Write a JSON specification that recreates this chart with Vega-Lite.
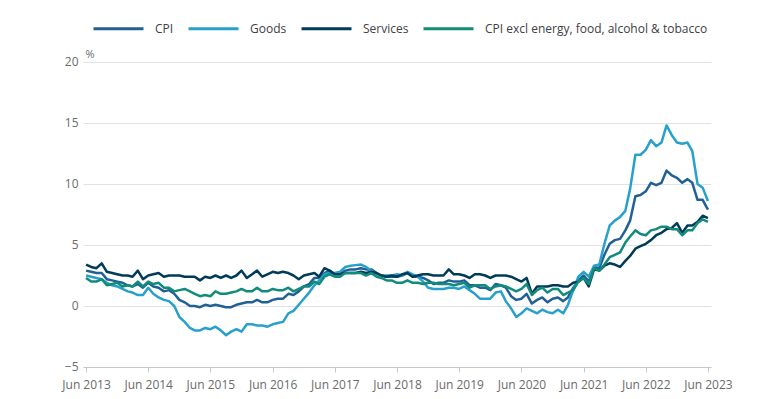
{
  "$schema": "https://vega.github.io/schema/vega-lite/v6.json",
  "width": 628,
  "height": 305,
  "autosize": "none",
  "padding": {"left": 83, "top": 62, "right": 51, "bottom": 32},
  "background": "white",
  "config": {"font": "Open Sans", "view": {"stroke": null}},
  "data": {"values": [
    {"d":"2013-06-01","cpi":2.9,"goods":2.5,"services":3.4,"core":2.3},
    {"d":"2013-07-01","cpi":2.8,"goods":2.4,"services":3.2,"core":2.0},
    {"d":"2013-08-01","cpi":2.7,"goods":2.3,"services":3.1,"core":2.0},
    {"d":"2013-09-01","cpi":2.7,"goods":2.2,"services":3.5,"core":2.2},
    {"d":"2013-10-01","cpi":2.2,"goods":1.9,"services":2.8,"core":1.7},
    {"d":"2013-11-01","cpi":2.1,"goods":1.7,"services":2.7,"core":1.8},
    {"d":"2013-12-01","cpi":2.0,"goods":1.6,"services":2.6,"core":1.9},
    {"d":"2014-01-01","cpi":1.9,"goods":1.4,"services":2.5,"core":1.6},
    {"d":"2014-02-01","cpi":1.7,"goods":1.2,"services":2.5,"core":1.7},
    {"d":"2014-03-01","cpi":1.6,"goods":1.1,"services":2.4,"core":1.6},
    {"d":"2014-04-01","cpi":1.8,"goods":0.9,"services":2.9,"core":2.0},
    {"d":"2014-05-01","cpi":1.5,"goods":0.9,"services":2.2,"core":1.6},
    {"d":"2014-06-01","cpi":1.9,"goods":1.5,"services":2.5,"core":2.0},
    {"d":"2014-07-01","cpi":1.6,"goods":1.0,"services":2.6,"core":1.8},
    {"d":"2014-08-01","cpi":1.5,"goods":0.7,"services":2.7,"core":1.9},
    {"d":"2014-09-01","cpi":1.2,"goods":0.5,"services":2.4,"core":1.5},
    {"d":"2014-10-01","cpi":1.3,"goods":0.4,"services":2.5,"core":1.5},
    {"d":"2014-11-01","cpi":1.0,"goods":0.0,"services":2.5,"core":1.2},
    {"d":"2014-12-01","cpi":0.5,"goods":-0.9,"services":2.5,"core":1.3},
    {"d":"2015-01-01","cpi":0.3,"goods":-1.3,"services":2.4,"core":1.4},
    {"d":"2015-02-01","cpi":0.0,"goods":-1.8,"services":2.4,"core":1.2},
    {"d":"2015-03-01","cpi":0.0,"goods":-2.0,"services":2.4,"core":1.0},
    {"d":"2015-04-01","cpi":-0.1,"goods":-2.0,"services":2.1,"core":0.8},
    {"d":"2015-05-01","cpi":0.1,"goods":-1.8,"services":2.4,"core":0.9},
    {"d":"2015-06-01","cpi":0.0,"goods":-1.9,"services":2.3,"core":0.8},
    {"d":"2015-07-01","cpi":0.1,"goods":-1.7,"services":2.5,"core":1.2},
    {"d":"2015-08-01","cpi":0.0,"goods":-2.0,"services":2.3,"core":1.0},
    {"d":"2015-09-01","cpi":-0.1,"goods":-2.4,"services":2.5,"core":1.0},
    {"d":"2015-10-01","cpi":-0.1,"goods":-2.1,"services":2.3,"core":1.1},
    {"d":"2015-11-01","cpi":0.1,"goods":-1.9,"services":2.5,"core":1.2},
    {"d":"2015-12-01","cpi":0.2,"goods":-2.1,"services":2.9,"core":1.4},
    {"d":"2016-01-01","cpi":0.3,"goods":-1.5,"services":2.3,"core":1.2},
    {"d":"2016-02-01","cpi":0.3,"goods":-1.5,"services":2.6,"core":1.2},
    {"d":"2016-03-01","cpi":0.5,"goods":-1.6,"services":2.9,"core":1.5},
    {"d":"2016-04-01","cpi":0.3,"goods":-1.6,"services":2.4,"core":1.2},
    {"d":"2016-05-01","cpi":0.3,"goods":-1.7,"services":2.6,"core":1.2},
    {"d":"2016-06-01","cpi":0.5,"goods":-1.5,"services":2.8,"core":1.4},
    {"d":"2016-07-01","cpi":0.6,"goods":-1.4,"services":2.7,"core":1.3},
    {"d":"2016-08-01","cpi":0.6,"goods":-1.3,"services":2.8,"core":1.3},
    {"d":"2016-09-01","cpi":1.0,"goods":-0.6,"services":2.7,"core":1.5},
    {"d":"2016-10-01","cpi":0.9,"goods":-0.4,"services":2.5,"core":1.2},
    {"d":"2016-11-01","cpi":1.2,"goods":0.1,"services":2.2,"core":1.4},
    {"d":"2016-12-01","cpi":1.6,"goods":0.6,"services":2.5,"core":1.6},
    {"d":"2017-01-01","cpi":1.8,"goods":1.1,"services":2.6,"core":1.6},
    {"d":"2017-02-01","cpi":2.3,"goods":1.7,"services":2.7,"core":2.0},
    {"d":"2017-03-01","cpi":2.3,"goods":2.1,"services":2.4,"core":1.8},
    {"d":"2017-04-01","cpi":2.7,"goods":2.6,"services":3.1,"core":2.4},
    {"d":"2017-05-01","cpi":2.9,"goods":2.7,"services":2.9,"core":2.6},
    {"d":"2017-06-01","cpi":2.6,"goods":2.7,"services":2.6,"core":2.4},
    {"d":"2017-07-01","cpi":2.6,"goods":2.8,"services":2.6,"core":2.4},
    {"d":"2017-08-01","cpi":2.9,"goods":3.2,"services":2.7,"core":2.7},
    {"d":"2017-09-01","cpi":3.0,"goods":3.3,"services":2.7,"core":2.7},
    {"d":"2017-10-01","cpi":3.0,"goods":3.35,"services":2.7,"core":2.7},
    {"d":"2017-11-01","cpi":3.1,"goods":3.4,"services":2.8,"core":2.7},
    {"d":"2017-12-01","cpi":3.0,"goods":3.2,"services":2.7,"core":2.5},
    {"d":"2018-01-01","cpi":3.0,"goods":2.9,"services":2.8,"core":2.7},
    {"d":"2018-02-01","cpi":2.7,"goods":2.6,"services":2.7,"core":2.4},
    {"d":"2018-03-01","cpi":2.5,"goods":2.5,"services":2.5,"core":2.3},
    {"d":"2018-04-01","cpi":2.4,"goods":2.5,"services":2.4,"core":2.1},
    {"d":"2018-05-01","cpi":2.4,"goods":2.5,"services":2.5,"core":2.1},
    {"d":"2018-06-01","cpi":2.4,"goods":2.6,"services":2.4,"core":1.9},
    {"d":"2018-07-01","cpi":2.5,"goods":2.5,"services":2.6,"core":1.9},
    {"d":"2018-08-01","cpi":2.7,"goods":2.8,"services":2.7,"core":2.1},
    {"d":"2018-09-01","cpi":2.4,"goods":2.6,"services":2.4,"core":1.9},
    {"d":"2018-10-01","cpi":2.4,"goods":2.4,"services":2.5,"core":1.9},
    {"d":"2018-11-01","cpi":2.3,"goods":2.0,"services":2.6,"core":1.8},
    {"d":"2018-12-01","cpi":2.1,"goods":1.5,"services":2.6,"core":1.9},
    {"d":"2019-01-01","cpi":1.8,"goods":1.4,"services":2.5,"core":1.9},
    {"d":"2019-02-01","cpi":1.9,"goods":1.4,"services":2.5,"core":1.8},
    {"d":"2019-03-01","cpi":1.9,"goods":1.4,"services":2.5,"core":1.8},
    {"d":"2019-04-01","cpi":2.1,"goods":1.5,"services":3.0,"core":1.8},
    {"d":"2019-05-01","cpi":2.0,"goods":1.5,"services":2.6,"core":1.7},
    {"d":"2019-06-01","cpi":2.0,"goods":1.4,"services":2.6,"core":1.8},
    {"d":"2019-07-01","cpi":2.1,"goods":1.6,"services":2.5,"core":1.9},
    {"d":"2019-08-01","cpi":1.7,"goods":1.3,"services":2.3,"core":1.5},
    {"d":"2019-09-01","cpi":1.7,"goods":1.0,"services":2.6,"core":1.7},
    {"d":"2019-10-01","cpi":1.5,"goods":0.6,"services":2.6,"core":1.7},
    {"d":"2019-11-01","cpi":1.5,"goods":0.6,"services":2.5,"core":1.7},
    {"d":"2019-12-01","cpi":1.3,"goods":0.6,"services":2.3,"core":1.4},
    {"d":"2020-01-01","cpi":1.8,"goods":1.1,"services":2.5,"core":1.6},
    {"d":"2020-02-01","cpi":1.7,"goods":1.2,"services":2.5,"core":1.7},
    {"d":"2020-03-01","cpi":1.5,"goods":0.4,"services":2.5,"core":1.6},
    {"d":"2020-04-01","cpi":0.8,"goods":-0.2,"services":2.4,"core":1.4},
    {"d":"2020-05-01","cpi":0.5,"goods":-0.9,"services":2.2,"core":1.2},
    {"d":"2020-06-01","cpi":0.6,"goods":-0.6,"services":2.0,"core":1.4},
    {"d":"2020-07-01","cpi":1.0,"goods":-0.2,"services":2.3,"core":1.8},
    {"d":"2020-08-01","cpi":0.2,"goods":-0.4,"services":1.0,"core":0.9},
    {"d":"2020-09-01","cpi":0.5,"goods":-0.6,"services":1.6,"core":1.3},
    {"d":"2020-10-01","cpi":0.7,"goods":-0.3,"services":1.6,"core":1.5},
    {"d":"2020-11-01","cpi":0.3,"goods":-0.5,"services":1.6,"core":1.1},
    {"d":"2020-12-01","cpi":0.6,"goods":-0.6,"services":1.7,"core":1.4},
    {"d":"2021-01-01","cpi":0.7,"goods":-0.3,"services":1.7,"core":1.4},
    {"d":"2021-02-01","cpi":0.4,"goods":-0.6,"services":1.6,"core":0.9},
    {"d":"2021-03-01","cpi":0.7,"goods":0.1,"services":1.6,"core":1.1},
    {"d":"2021-04-01","cpi":1.5,"goods":1.3,"services":1.9,"core":1.3},
    {"d":"2021-05-01","cpi":2.1,"goods":2.4,"services":2.0,"core":2.0},
    {"d":"2021-06-01","cpi":2.5,"goods":2.8,"services":2.3,"core":2.3},
    {"d":"2021-07-01","cpi":2.0,"goods":2.4,"services":1.6,"core":1.8},
    {"d":"2021-08-01","cpi":3.2,"goods":3.3,"services":3.0,"core":3.1},
    {"d":"2021-09-01","cpi":3.1,"goods":3.4,"services":2.9,"core":2.9},
    {"d":"2021-10-01","cpi":4.2,"goods":5.1,"services":3.3,"core":3.4},
    {"d":"2021-11-01","cpi":5.1,"goods":6.6,"services":3.5,"core":4.0},
    {"d":"2021-12-01","cpi":5.4,"goods":7.0,"services":3.4,"core":4.2},
    {"d":"2022-01-01","cpi":5.5,"goods":7.3,"services":3.2,"core":4.4},
    {"d":"2022-02-01","cpi":6.2,"goods":7.8,"services":3.7,"core":5.2},
    {"d":"2022-03-01","cpi":7.0,"goods":9.6,"services":4.1,"core":5.7},
    {"d":"2022-04-01","cpi":9.0,"goods":12.4,"services":4.7,"core":6.2},
    {"d":"2022-05-01","cpi":9.1,"goods":12.4,"services":4.9,"core":5.9},
    {"d":"2022-06-01","cpi":9.4,"goods":12.8,"services":5.1,"core":5.8},
    {"d":"2022-07-01","cpi":10.1,"goods":13.6,"services":5.4,"core":6.2},
    {"d":"2022-08-01","cpi":9.9,"goods":13.1,"services":5.8,"core":6.3},
    {"d":"2022-09-01","cpi":10.1,"goods":13.4,"services":6.0,"core":6.5},
    {"d":"2022-10-01","cpi":11.1,"goods":14.8,"services":6.3,"core":6.5},
    {"d":"2022-11-01","cpi":10.7,"goods":14.0,"services":6.4,"core":6.3},
    {"d":"2022-12-01","cpi":10.5,"goods":13.4,"services":6.8,"core":6.3},
    {"d":"2023-01-01","cpi":10.1,"goods":13.3,"services":6.0,"core":5.8},
    {"d":"2023-02-01","cpi":10.4,"goods":13.4,"services":6.6,"core":6.2},
    {"d":"2023-03-01","cpi":10.1,"goods":12.7,"services":6.6,"core":6.2},
    {"d":"2023-04-01","cpi":8.7,"goods":10.0,"services":6.9,"core":6.8},
    {"d":"2023-05-01","cpi":8.7,"goods":9.7,"services":7.4,"core":7.1},
    {"d":"2023-06-01","cpi":7.9,"goods":8.6,"services":7.2,"core":6.9}
  ]},
  "transform": [{"fold": ["cpi", "goods", "services", "core"], "as": ["series", "value"]}],
  "mark": {"type": "line", "strokeWidth": 2.5, "strokeJoin": "round"},
  "encoding": {
    "x": {
      "field": "d",
      "type": "temporal",
      "scale": {"type": "utc", "domain": [{"year": 2013, "month": 5, "date": 14, "utc": true}, {"year": 2023, "month": 6, "date": 19, "utc": true}]},
      "axis": {
        "title": null,
        "values": [
          {"year": 2013, "month": 6, "date": 1, "utc": true},
          {"year": 2014, "month": 6, "date": 1, "utc": true},
          {"year": 2015, "month": 6, "date": 1, "utc": true},
          {"year": 2016, "month": 6, "date": 1, "utc": true},
          {"year": 2017, "month": 6, "date": 1, "utc": true},
          {"year": 2018, "month": 6, "date": 1, "utc": true},
          {"year": 2019, "month": 6, "date": 1, "utc": true},
          {"year": 2020, "month": 6, "date": 1, "utc": true},
          {"year": 2021, "month": 6, "date": 1, "utc": true},
          {"year": 2022, "month": 6, "date": 1, "utc": true},
          {"year": 2023, "month": 6, "date": 1, "utc": true}
        ],
        "labelExpr": "utcFormat(datum.value, '%b %Y')",
        "grid": false,
        "domainColor": "#c8c8c8",
        "tickColor": "#c8c8c8",
        "tickSize": 5,
        "labelFontSize": 12,
        "labelColor": "#6b6b6b",
        "labelPadding": 7,
        "labelFlush": false,
        "labelOverlap": false
      }
    },
    "y": {
      "field": "value",
      "type": "quantitative",
      "scale": {"domain": [-5, 20], "nice": false, "zero": false},
      "axis": {
        "title": "%",
        "titleAngle": 0,
        "titleX": 2,
        "titleY": -5,
        "titleAlign": "left",
        "titleBaseline": "alphabetic",
        "titleFontSize": 11,
        "titleFontWeight": "normal",
        "titleColor": "#6b6b6b",
        "values": [-5, 0, 5, 10, 15, 20],
        "grid": true,
        "gridColor": "#e2e2e2",
        "domain": false,
        "ticks": false,
        "labelPadding": 5,
        "labelOffset": -1,
        "labelFontSize": 12,
        "labelColor": "#6b6b6b",
        "labelBaseline": "middle"
      }
    },
    "color": {
      "field": "series",
      "type": "nominal",
      "scale": {"domain": ["cpi", "goods", "services", "core"], "range": ["#206095", "#27a0cc", "#003c57", "#118c7b"]},
      "legend": {
        "title": null,
        "orient": "none",
        "legendX": 9,
        "legendY": -60,
        "direction": "horizontal",
        "padding": 0,
        "symbolType": "stroke",
        "symbolSize": 2500,
        "symbolStrokeWidth": 3,
        "labelFontSize": 12,
        "labelLimit": 400,
        "labelColor": "#414042",
        "labelOffset": 10,
        "columnPadding": 8,
        "labelExpr": "datum.label == 'cpi' ? 'CPI' : datum.label == 'goods' ? 'Goods' : datum.label == 'services' ? 'Services' : 'CPI excl energy, food, alcohol & tobacco'"
      }
    }
  }
}
